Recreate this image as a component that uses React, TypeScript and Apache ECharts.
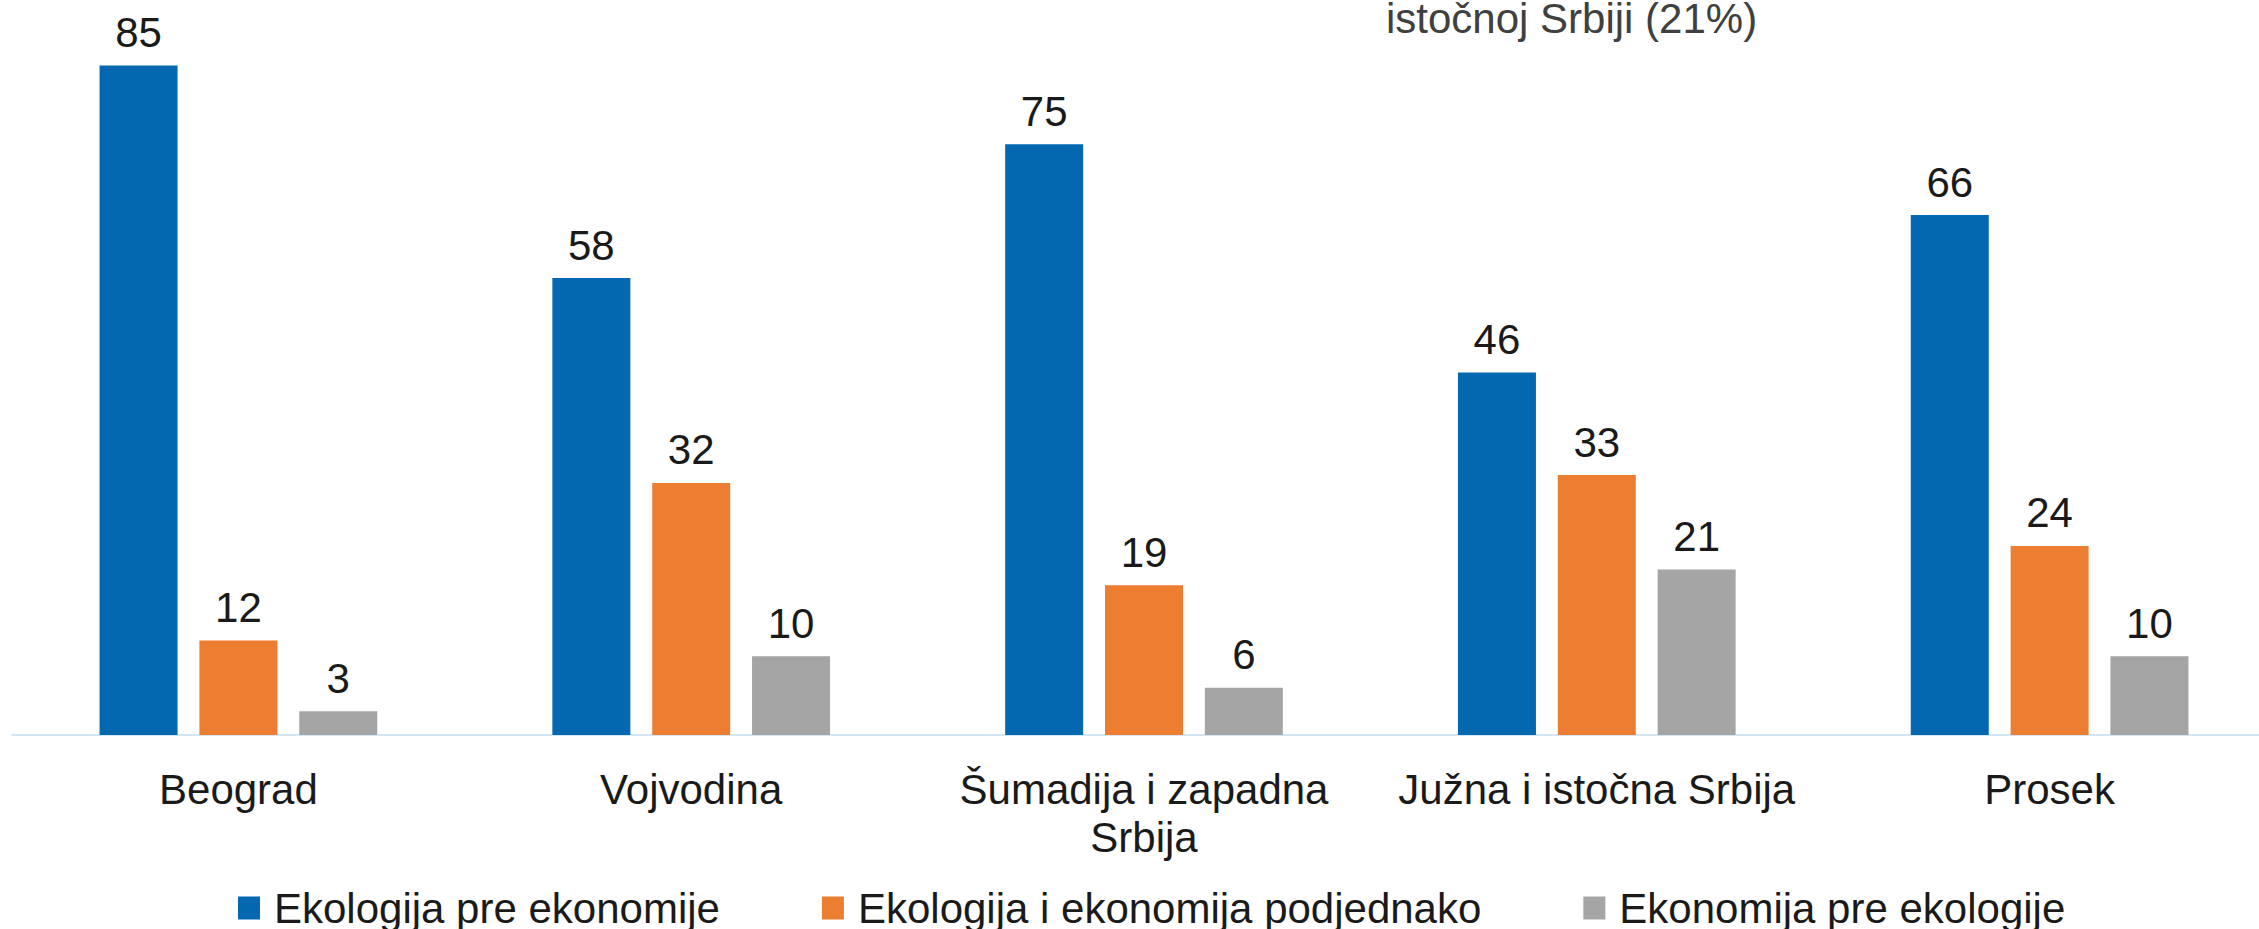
import React, { useEffect, useRef } from "react";
import * as echarts from "echarts";

const categories = ["Beograd", "Vojvodina", "Šumadija i zapadna\nSrbija", "Južna i istočna Srbija", "Prosek"];
const seriesNames = ["Ekologija pre ekonomije", "Ekologija i ekonomija podjednako", "Ekonomija pre ekologije"];
const ekologijaPre = [85, 58, 75, 46, 66];
const podjednako = [12, 32, 19, 33, 24];
const ekonomijaPre = [3, 10, 6, 21, 10];
const colors = ["#0468B1", "#ED7D31", "#A5A5A5"];
const noteText = "istočnoj Srbiji (21%)";

export default function App() {
  const ref = useRef<HTMLDivElement>(null);
  useEffect(() => {
    if (!ref.current) return;
    const chart = echarts.init(ref.current, null, { renderer: "svg" });
    const font = "'Liberation Sans', Arial, sans-serif";
    const values = [ekologijaPre, podjednako, ekonomijaPre];
    chart.setOption({
      animation: false,
      textStyle: { fontFamily: font },
      grid: { left: 12, right: 0, top: 0, bottom: 194, containLabel: false },
      xAxis: {
        type: "category",
        data: categories,
        axisLine: { lineStyle: { color: "#d3e6f6", width: 2 } },
        axisTick: { show: false },
        axisLabel: {
          color: "#1a1a1a",
          fontSize: 42,
          fontFamily: font,
          margin: 30,
          lineHeight: 48,
          interval: 0,
        },
      },
      yAxis: {
        type: "value",
        min: 0,
        max: 93.3,
        show: false,
        splitLine: { show: false },
      },
      legend: {
        top: 882,
        left: 233,
        itemWidth: 22,
        itemHeight: 23,
        itemGap: 102,
        icon: "rect",
        textStyle: { color: "#1a1a1a", fontSize: 42, fontFamily: font, padding: [0, 0, 0, 9] },
        data: seriesNames,
      },
      graphic: [
        {
          type: "text",
          left: 1386,
          top: -3,
          style: { text: noteText, fill: "#404040", fontSize: 42, fontFamily: font },
        },
      ],
      series: seriesNames.map((name, i) => ({
        name,
        type: "bar",
        data: values[i],
        barWidth: 78,
        barGap: "28%",
        itemStyle: { color: colors[i] },
        label: {
          show: true,
          position: "top",
          distance: 12,
          color: "#1a1a1a",
          fontSize: 42,
          fontFamily: font,
        },
      })),
    });
    return () => chart.dispose();
  }, []);
  return (
    <div style={{ position: "fixed", left: 0, top: 0, width: 2259, height: 929, overflow: "hidden", background: "#fff" }}>
      <div ref={ref} style={{ position: "absolute", left: 0, top: 0, width: 2276, height: 929 }} />
    </div>
  );
}
